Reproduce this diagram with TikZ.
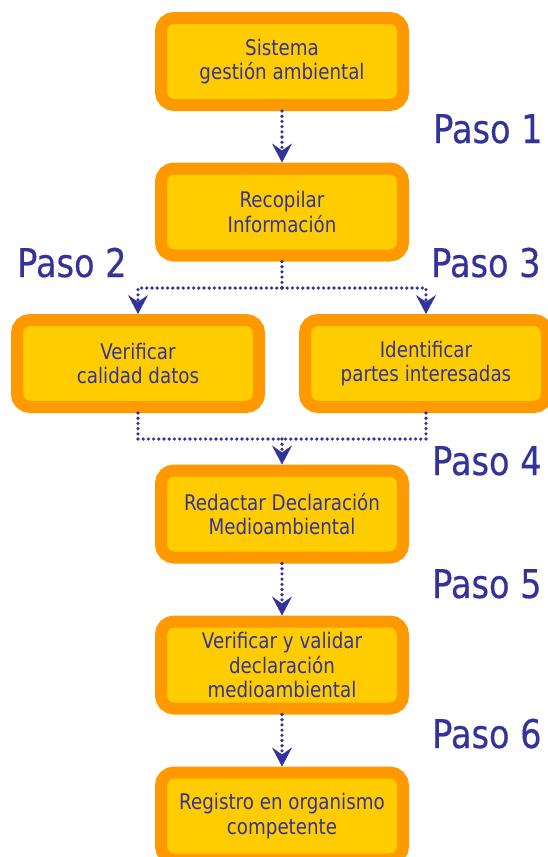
\documentclass[tikz,border=0pt]{standalone}
\usepackage{fontspec}
\setmainfont[FakeStretch=0.85]{DejaVu Sans}
\newfontfamily\pasofont[FakeStretch=0.85,FakeBold=0.4]{DejaVu Sans}
\usetikzlibrary{arrows.meta}
\definecolor{boxorange}{HTML}{FF9900}
\definecolor{boxyellow}{HTML}{FFCC00}
\definecolor{navy}{HTML}{333399}
\tikzset{
  stepbox/.style={draw=boxorange, fill=boxyellow, line width=12pt,
    rounded corners=13pt, minimum width=242pt, minimum height=87pt,
    inner sep=0pt, align=center, text=navy,
    font=\fontsize{21.5}{24.5}\selectfont},
  pasolabel/.style={anchor=base west, inner sep=0pt, text=navy,
    font=\pasofont\fontsize{39.5}{42}\selectfont},
  dotline/.style={draw=navy, line width=3.6pt, line cap=round,
    dash pattern=on 0pt off 5.2pt},
  dotarrow/.style={dotline, -{Stealth[length=19pt,width=20pt,inset=7pt,line width=0.5pt]}},
}
\begin{document}
\begin{tikzpicture}[x=1pt,y=-1pt]
\useasboundingbox (0,0) rectangle (547,857);
\node[stepbox] (b1) at (282,61.5) {Sistema\\gestión ambiental};
\node[stepbox] (b2) at (282,212) {Recopilar\\Información};
\node[stepbox] (b3) at (138,363.5) {Verificar\\calidad datos};
\node[stepbox] (b4) at (426,363.5) {Identificar\\partes interesadas};
\node[stepbox] (b5) at (282,514) {Redactar Declaración\\Medioambiental};
\node[stepbox] (b6) at (282,665) {Verificar y validar\\declaración\\medioambiental};
\node[stepbox] (b7) at (282,816) {Registro en organismo\\competente};

\node[pasolabel] (p1) at (433,143) {Paso 1};
\node[pasolabel] (p2) at (17,277) {Paso 2};
\node[pasolabel] (p3) at (431,277) {Paso 3};
\node[pasolabel] (p4) at (432,475) {Paso 4};
\node[pasolabel] (p5) at (432,598) {Paso 5};
\node[pasolabel] (p6) at (432,748) {Paso 6};

\coordinate (s) at (282,288);
\coordinate (m) at (282,439);

\draw[dotarrow] (b1.south) -- (b2.north);
\draw[dotline] (b2.south) -- (s);
\draw[dotarrow] (s) -| (b3.north);
\draw[dotarrow] (s) -| (b4.north);
\draw[dotline] (b3.south) |- (m);
\draw[dotline] (b4.south) |- (m);
\draw[dotarrow] (m) -- (b5.north);
\draw[dotarrow] (b5.south) -- (b6.north);
\draw[dotarrow] (b6.south) -- (b7.north);
\end{tikzpicture}
\end{document}
